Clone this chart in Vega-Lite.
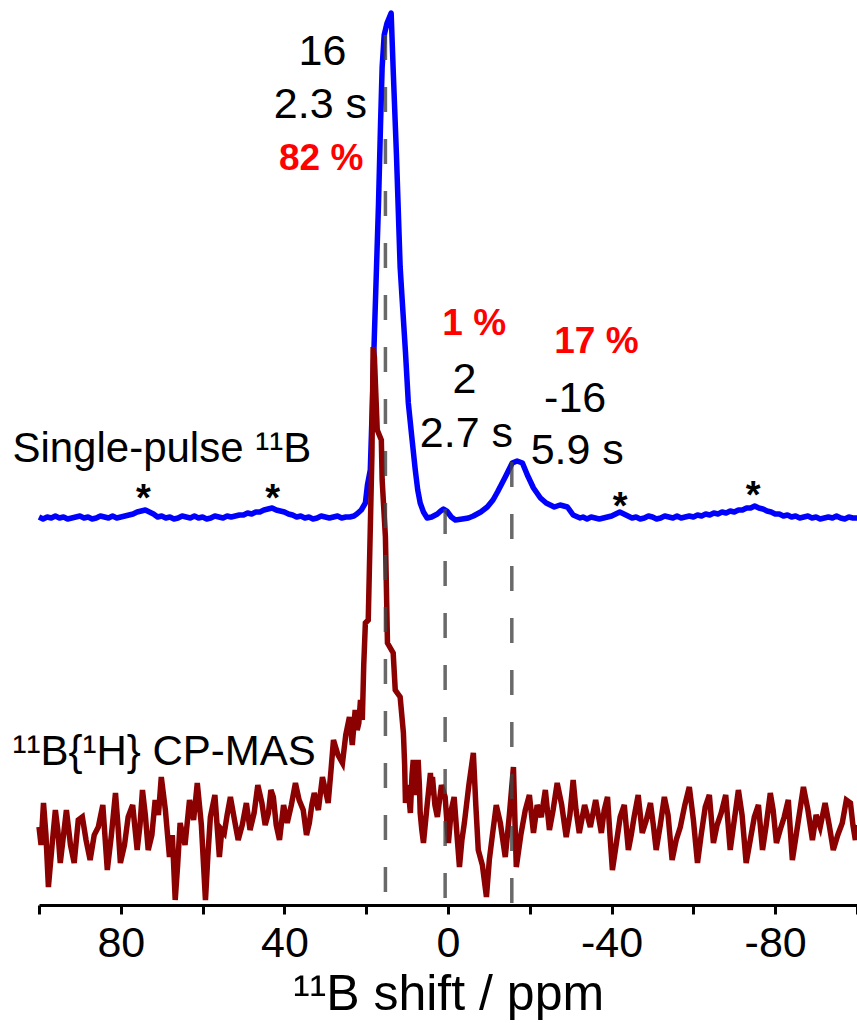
{
  "$schema": "https://vega.github.io/schema/vega-lite/v6.json",
  "width": 818,
  "height": 905,
  "autosize": {"type": "none"},
  "padding": {"left": 39, "top": 0, "right": 0, "bottom": 118},
  "config": {
    "view": {"stroke": null},
    "font": "Liberation Sans",
    "text": {"font": "Liberation Sans"}
  },
  "datasets": {
    "blue": [
      {"ppm":100,"v":388},{"ppm":99,"v":386},{"ppm":98,"v":388},{"ppm":97,"v":387},{"ppm":96,"v":389},{"ppm":95,"v":387},{"ppm":94,"v":388},{"ppm":93,"v":386},{"ppm":92,"v":387},{"ppm":91,"v":388},{"ppm":90,"v":389},{"ppm":89,"v":387},{"ppm":88,"v":388},{"ppm":87,"v":386},{"ppm":86,"v":387},{"ppm":85,"v":389},{"ppm":84,"v":388},{"ppm":83,"v":387},{"ppm":82,"v":389},{"ppm":81,"v":387},{"ppm":80,"v":388},{"ppm":79,"v":389},{"ppm":78,"v":390},{"ppm":77,"v":391},{"ppm":76,"v":393},{"ppm":75,"v":394},{"ppm":74,"v":395},{"ppm":73,"v":393},{"ppm":72,"v":391},{"ppm":71,"v":388},{"ppm":70,"v":389},{"ppm":69,"v":387},{"ppm":68,"v":388},{"ppm":67,"v":386},{"ppm":66,"v":387},{"ppm":65,"v":389},{"ppm":64,"v":388},{"ppm":63,"v":387},{"ppm":62,"v":389},{"ppm":61,"v":387},{"ppm":60,"v":388},{"ppm":59,"v":386},{"ppm":58,"v":387},{"ppm":57,"v":389},{"ppm":56,"v":388},{"ppm":55,"v":387},{"ppm":54,"v":389},{"ppm":53,"v":388},{"ppm":52,"v":389},{"ppm":51,"v":390},{"ppm":50,"v":390},{"ppm":49,"v":392},{"ppm":48,"v":391},{"ppm":47,"v":393},{"ppm":46,"v":393},{"ppm":45,"v":395},{"ppm":44,"v":396},{"ppm":43,"v":397},{"ppm":42,"v":395},{"ppm":41,"v":394},{"ppm":40,"v":393},{"ppm":39,"v":391},{"ppm":38,"v":390},{"ppm":37,"v":388},{"ppm":36,"v":389},{"ppm":35,"v":387},{"ppm":34,"v":388},{"ppm":33,"v":386},{"ppm":32,"v":387},{"ppm":31,"v":389},{"ppm":30,"v":388},{"ppm":29,"v":387},{"ppm":28,"v":388},{"ppm":27,"v":389},{"ppm":26,"v":387},{"ppm":25,"v":388},{"ppm":24,"v":388},{"ppm":23,"v":389},{"ppm":22.3,"v":391},{"ppm":21.2,"v":395},{"ppm":20.2,"v":402},{"ppm":19.7,"v":420},{"ppm":19.0,"v":435},{"ppm":18.5,"v":500},{"ppm":18.0,"v":570},{"ppm":17.5,"v":635},{"ppm":17.0,"v":700},{"ppm":16.5,"v":780},{"ppm":16.1,"v":838},{"ppm":15.6,"v":870},{"ppm":14.9,"v":882},{"ppm":13.9,"v":892},{"ppm":13.4,"v":835},{"ppm":12.6,"v":750},{"ppm":11.7,"v":638},{"ppm":11.2,"v":605},{"ppm":10.4,"v":553},{"ppm":9.7,"v":502},{"ppm":8.9,"v":470},{"ppm":8.0,"v":435},{"ppm":7.4,"v":415},{"ppm":6.8,"v":402},{"ppm":6.0,"v":393},{"ppm":5.1,"v":387},{"ppm":4.0,"v":388},{"ppm":2.6,"v":391},{"ppm":1.8,"v":394},{"ppm":1.1,"v":396},{"ppm":0.3,"v":394},{"ppm":-0.8,"v":388},{"ppm":-1.8,"v":385},{"ppm":-3.5,"v":386},{"ppm":-5,"v":387},{"ppm":-6.2,"v":389},{"ppm":-8,"v":393},{"ppm":-9.6,"v":398},{"ppm":-11,"v":405},{"ppm":-12.1,"v":413},{"ppm":-14.0,"v":428},{"ppm":-15.7,"v":442},{"ppm":-16.9,"v":444},{"ppm":-18.2,"v":442},{"ppm":-19.4,"v":430},{"ppm":-20.9,"v":417},{"ppm":-22.6,"v":407},{"ppm":-24,"v":402},{"ppm":-25.0,"v":400},{"ppm":-26,"v":398},{"ppm":-27.4,"v":400},{"ppm":-29.2,"v":398},{"ppm":-30.6,"v":390},{"ppm":-32.3,"v":387},{"ppm":-33,"v":388},{"ppm":-34,"v":386},{"ppm":-35,"v":388},{"ppm":-36,"v":387},{"ppm":-37,"v":386},{"ppm":-38,"v":387},{"ppm":-39,"v":388},{"ppm":-40,"v":389},{"ppm":-41,"v":391},{"ppm":-42,"v":393},{"ppm":-43,"v":391},{"ppm":-44,"v":389},{"ppm":-45,"v":387},{"ppm":-46,"v":388},{"ppm":-47,"v":386},{"ppm":-48,"v":387},{"ppm":-49,"v":389},{"ppm":-50,"v":388},{"ppm":-51,"v":386},{"ppm":-52,"v":387},{"ppm":-53,"v":389},{"ppm":-54,"v":388},{"ppm":-55,"v":387},{"ppm":-56,"v":389},{"ppm":-57,"v":387},{"ppm":-58,"v":388},{"ppm":-59,"v":389},{"ppm":-60,"v":388},{"ppm":-61,"v":390},{"ppm":-62,"v":389},{"ppm":-63,"v":391},{"ppm":-64,"v":390},{"ppm":-65,"v":392},{"ppm":-66,"v":391},{"ppm":-67,"v":393},{"ppm":-68,"v":392},{"ppm":-69,"v":394},{"ppm":-70,"v":393},{"ppm":-71,"v":395},{"ppm":-72,"v":395},{"ppm":-73,"v":397},{"ppm":-74,"v":397},{"ppm":-75,"v":399},{"ppm":-76,"v":397},{"ppm":-77,"v":396},{"ppm":-78,"v":394},{"ppm":-79,"v":393},{"ppm":-80,"v":391},{"ppm":-81,"v":391},{"ppm":-82,"v":389},{"ppm":-83,"v":390},{"ppm":-84,"v":388},{"ppm":-85,"v":389},{"ppm":-86,"v":387},{"ppm":-87,"v":388},{"ppm":-88,"v":389},{"ppm":-89,"v":387},{"ppm":-90,"v":388},{"ppm":-91,"v":386},{"ppm":-92,"v":387},{"ppm":-93,"v":388},{"ppm":-94,"v":387},{"ppm":-95,"v":389},{"ppm":-96,"v":387},{"ppm":-97,"v":386},{"ppm":-98,"v":388},{"ppm":-99,"v":387},{"ppm":-100,"v":387}
    ],
    "red": [
      {"ppm":100,"v":78},{"ppm":99.5,"v":60},{"ppm":98.9,"v":102},{"ppm":98.3,"v":70},{"ppm":97.7,"v":18},{"ppm":96.8,"v":60},{"ppm":96.0,"v":95},{"ppm":95.4,"v":75},{"ppm":94.8,"v":42},{"ppm":94.0,"v":70},{"ppm":93.3,"v":95},{"ppm":92.3,"v":60},{"ppm":91.4,"v":42},{"ppm":90.4,"v":85},{"ppm":89.4,"v":88},{"ppm":88.5,"v":65},{"ppm":87.5,"v":45},{"ppm":86.5,"v":70},{"ppm":85.5,"v":78},{"ppm":84.4,"v":100},{"ppm":83.3,"v":35},{"ppm":82.3,"v":70},{"ppm":81.3,"v":112},{"ppm":80.7,"v":80},{"ppm":80.1,"v":42},{"ppm":79.1,"v":60},{"ppm":78.2,"v":88},{"ppm":77.1,"v":100},{"ppm":76.0,"v":55},{"ppm":75.3,"v":80},{"ppm":74.7,"v":115},{"ppm":74.0,"v":90},{"ppm":73.3,"v":55},{"ppm":72.4,"v":70},{"ppm":71.6,"v":105},{"ppm":70.8,"v":90},{"ppm":70.1,"v":128},{"ppm":69.1,"v":95},{"ppm":68.1,"v":48},{"ppm":67.4,"v":70},{"ppm":66.7,"v":5},{"ppm":66.1,"v":40},{"ppm":65.5,"v":82},{"ppm":64.3,"v":60},{"ppm":63.2,"v":105},{"ppm":62.2,"v":85},{"ppm":61.3,"v":122},{"ppm":60.3,"v":80},{"ppm":59.3,"v":5},{"ppm":58.7,"v":50},{"ppm":58.1,"v":88},{"ppm":57.0,"v":110},{"ppm":55.9,"v":48},{"ppm":55.3,"v":75},{"ppm":54.7,"v":72},{"ppm":54.0,"v":90},{"ppm":53.2,"v":108},{"ppm":52.2,"v":85},{"ppm":51.3,"v":65},{"ppm":50.3,"v":80},{"ppm":49.3,"v":102},{"ppm":48.4,"v":75},{"ppm":47.4,"v":92},{"ppm":46.5,"v":120},{"ppm":45.5,"v":102},{"ppm":44.7,"v":80},{"ppm":43.9,"v":92},{"ppm":43.3,"v":115},{"ppm":42.7,"v":108},{"ppm":42.0,"v":80},{"ppm":41.2,"v":65},{"ppm":40.2,"v":100},{"ppm":39.3,"v":82},{"ppm":38.3,"v":100},{"ppm":37.3,"v":122},{"ppm":36.4,"v":105},{"ppm":35.4,"v":95},{"ppm":34.6,"v":70},{"ppm":33.9,"v":82},{"ppm":33.3,"v":100},{"ppm":32.7,"v":112},{"ppm":31.7,"v":95},{"ppm":30.7,"v":128},{"ppm":30.0,"v":115},{"ppm":29.3,"v":102},{"ppm":28.6,"v":135},{"ppm":28.0,"v":165},{"ppm":26.9,"v":150},{"ppm":25.8,"v":142},{"ppm":25.0,"v":170},{"ppm":24.1,"v":188},{"ppm":23.4,"v":160},{"ppm":22.7,"v":195},{"ppm":22.2,"v":175},{"ppm":21.8,"v":182},{"ppm":21.4,"v":205},{"ppm":20.95,"v":185},{"ppm":20.6,"v":240},{"ppm":20.2,"v":282},{"ppm":19.5,"v":285},{"ppm":18.6,"v":450},{"ppm":18.3,"v":558},{"ppm":18.0,"v":548},{"ppm":17.3,"v":475},{"ppm":16.3,"v":465},{"ppm":16.1,"v":425},{"ppm":15.3,"v":368},{"ppm":14.8,"v":262},{"ppm":13.4,"v":252},{"ppm":12.9,"v":215},{"ppm":11.7,"v":208},{"ppm":10.9,"v":172},{"ppm":10.6,"v":140},{"ppm":10.4,"v":102},{"ppm":9.8,"v":120},{"ppm":9.2,"v":92},{"ppm":8.8,"v":130},{"ppm":8.5,"v":145},{"ppm":7.9,"v":110},{"ppm":7.3,"v":145},{"ppm":7.0,"v":120},{"ppm":6.8,"v":92},{"ppm":6.4,"v":75},{"ppm":6.0,"v":62},{"ppm":5.1,"v":100},{"ppm":4.3,"v":132},{"ppm":4.0,"v":110},{"ppm":3.8,"v":128},{"ppm":3.2,"v":100},{"ppm":2.6,"v":88},{"ppm":1.6,"v":120},{"ppm":0.7,"v":108},{"ppm":0.3,"v":85},{"ppm":-0.1,"v":62},{"ppm":-0.8,"v":95},{"ppm":-1.5,"v":108},{"ppm":-2.2,"v":70},{"ppm":-2.8,"v":38},{"ppm":-3.4,"v":65},{"ppm":-4.0,"v":82},{"ppm":-5.1,"v":120},{"ppm":-6.2,"v":152},{"ppm":-6.8,"v":100},{"ppm":-7.4,"v":55},{"ppm":-8.4,"v":40},{"ppm":-9.4,"v":8},{"ppm":-10.1,"v":45},{"ppm":-10.8,"v":68},{"ppm":-11.8,"v":100},{"ppm":-12.8,"v":82},{"ppm":-13.4,"v":65},{"ppm":-14.0,"v":48},{"ppm":-15.0,"v":90},{"ppm":-16.0,"v":138},{"ppm":-16.4,"v":80},{"ppm":-16.7,"v":38},{"ppm":-17.8,"v":70},{"ppm":-18.9,"v":95},{"ppm":-19.9,"v":110},{"ppm":-20.9,"v":72},{"ppm":-21.8,"v":100},{"ppm":-22.8,"v":88},{"ppm":-23.8,"v":115},{"ppm":-24.8,"v":75},{"ppm":-25.7,"v":95},{"ppm":-26.7,"v":122},{"ppm":-27.8,"v":100},{"ppm":-28.9,"v":68},{"ppm":-29.8,"v":90},{"ppm":-30.6,"v":125},{"ppm":-31.3,"v":95},{"ppm":-32.1,"v":72},{"ppm":-33.4,"v":100},{"ppm":-34.8,"v":78},{"ppm":-36.1,"v":105},{"ppm":-37.5,"v":72},{"ppm":-38.2,"v":95},{"ppm":-39.0,"v":108},{"ppm":-39.6,"v":70},{"ppm":-40.2,"v":35},{"ppm":-41.1,"v":60},{"ppm":-42.1,"v":88},{"ppm":-43.1,"v":100},{"ppm":-44.1,"v":55},{"ppm":-44.8,"v":70},{"ppm":-45.5,"v":88},{"ppm":-46.5,"v":110},{"ppm":-47.5,"v":72},{"ppm":-48.5,"v":85},{"ppm":-49.5,"v":102},{"ppm":-50.2,"v":80},{"ppm":-50.9,"v":55},{"ppm":-51.9,"v":80},{"ppm":-52.9,"v":108},{"ppm":-53.8,"v":90},{"ppm":-54.8,"v":45},{"ppm":-55.8,"v":65},{"ppm":-56.8,"v":78},{"ppm":-57.9,"v":100},{"ppm":-59.0,"v":118},{"ppm":-60.0,"v":85},{"ppm":-61.0,"v":42},{"ppm":-61.9,"v":70},{"ppm":-62.9,"v":98},{"ppm":-63.9,"v":110},{"ppm":-64.9,"v":62},{"ppm":-65.8,"v":80},{"ppm":-66.8,"v":92},{"ppm":-67.9,"v":110},{"ppm":-69.0,"v":55},{"ppm":-70.0,"v":85},{"ppm":-71.0,"v":115},{"ppm":-71.9,"v":90},{"ppm":-72.9,"v":42},{"ppm":-73.9,"v":65},{"ppm":-74.9,"v":88},{"ppm":-75.9,"v":100},{"ppm":-76.9,"v":55},{"ppm":-77.8,"v":80},{"ppm":-78.8,"v":112},{"ppm":-79.5,"v":95},{"ppm":-80.3,"v":62},{"ppm":-81.2,"v":75},{"ppm":-82.2,"v":88},{"ppm":-83.2,"v":105},{"ppm":-84.2,"v":45},{"ppm":-85.5,"v":80},{"ppm":-86.9,"v":118},{"ppm":-88.0,"v":95},{"ppm":-89.1,"v":65},{"ppm":-90.0,"v":90},{"ppm":-91.0,"v":78},{"ppm":-91.6,"v":90},{"ppm":-92.2,"v":102},{"ppm":-93.2,"v":80},{"ppm":-94.2,"v":55},{"ppm":-95.3,"v":70},{"ppm":-96.4,"v":82},{"ppm":-97.4,"v":105},{"ppm":-98.4,"v":102},{"ppm":-99.0,"v":80},{"ppm":-99.6,"v":65},{"ppm":-100,"v":80}
    ],
    "rules": [
      {"ppm":15.3,"top":870,"bottom":0},{"ppm":0.7,"top":396,"bottom":0},{"ppm":-15.6,"top":443,"bottom":0}
    ],
    "nums": [
      {"ppm":30.7,"v":840,"t":"16"},{"ppm":31.2,"v":787,"t":"2.3 s"},
      {"ppm":-4.0,"v":512,"t":"2"},{"ppm":-4.5,"v":458,"t":"2.7 s"},
      {"ppm":-31.1,"v":493,"t":"-16"},{"ppm":-31.6,"v":441,"t":"5.9 s"}
    ],
    "pct": [
      {"ppm":31.0,"v":735,"t":"82 %"},{"ppm":-6.4,"v":570,"t":"1 %"},{"ppm":-36.3,"v":552,"t":"17 %"}
    ],
    "names": [
      {"ppm":106.5,"v":443,"t":"Single-pulse ¹¹B"},{"ppm":106.5,"v":140,"t":"¹¹B{¹H} CP-MAS"}
    ],
    "stars": [
      {"ppm":74.5,"v":394,"t":"*"},{"ppm":42.9,"v":394,"t":"*"},{"ppm":-42.1,"v":386,"t":"*"},{"ppm":-74.6,"v":397,"t":"*"}
    ]
  },
  "layer": [
    {
      "data": {"name": "blue"},
      "mark": {"type": "line", "color": "#0000ff", "strokeWidth": 5.5, "strokeJoin": "round"},
      "encoding": {
        "x": {
          "field": "ppm", "type": "quantitative",
          "scale": {"domain": [-100, 100], "reverse": true, "nice": false, "zero": false},
          "axis": {
            "title": "¹¹B shift / ppm",
            "values": [-100,-80,-60,-40,-20,0,20,40,60,80,100],
            "labelExpr": "datum.value % 40 == 0 ? toString(datum.value) : ''",
            "grid": false,
            "domainColor": "#000000", "domainWidth": 3,
            "tickColor": "#000000", "tickWidth": 3, "tickSize": 9,
            "labelFont": "Liberation Sans", "labelFontSize": 43, "labelColor": "#000000",
            "labelPadding": 8, "labelFlush": false, "labelOverlap": false,
            "titleFont": "Liberation Sans", "titleFontSize": 50, "titleFontWeight": "normal",
            "titleColor": "#000000", "titlePadding": 4
          }
        },
        "y": {
          "field": "v", "type": "quantitative",
          "scale": {"domain": [0, 905], "nice": false, "zero": false},
          "axis": null
        }
      }
    },
    {
      "data": {"name": "red"},
      "mark": {"type": "line", "color": "#8b0000", "strokeWidth": 5.5},
      "encoding": {
        "x": {"field": "ppm", "type": "quantitative"},
        "y": {"field": "v", "type": "quantitative"}
      }
    },
    {
      "data": {"name": "rules"},
      "mark": {"type": "rule", "color": "#444444", "opacity": 0.8, "strokeWidth": 3.5, "strokeDash": [25, 27]},
      "encoding": {
        "x": {"field": "ppm", "type": "quantitative"},
        "y": {"field": "top", "type": "quantitative"},
        "y2": {"field": "bottom"}
      }
    },
    {
      "data": {"name": "nums"},
      "mark": {"type": "text", "fontSize": 43, "color": "#000000", "align": "center", "baseline": "alphabetic"},
      "encoding": {
        "x": {"field": "ppm", "type": "quantitative"},
        "y": {"field": "v", "type": "quantitative"},
        "text": {"field": "t"}
      }
    },
    {
      "data": {"name": "pct"},
      "mark": {"type": "text", "fontSize": 37, "fontWeight": "bold", "color": "#ff0000", "align": "center", "baseline": "alphabetic"},
      "encoding": {
        "x": {"field": "ppm", "type": "quantitative"},
        "y": {"field": "v", "type": "quantitative"},
        "text": {"field": "t"}
      }
    },
    {
      "data": {"name": "names"},
      "mark": {"type": "text", "fontSize": 42, "color": "#000000", "align": "left", "baseline": "alphabetic"},
      "encoding": {
        "x": {"field": "ppm", "type": "quantitative"},
        "y": {"field": "v", "type": "quantitative"},
        "text": {"field": "t"}
      }
    },
    {
      "data": {"name": "stars"},
      "mark": {"type": "text", "fontSize": 38, "fontWeight": "bold", "color": "#000000", "align": "center", "baseline": "alphabetic"},
      "encoding": {
        "x": {"field": "ppm", "type": "quantitative"},
        "y": {"field": "v", "type": "quantitative"},
        "text": {"field": "t"}
      }
    }
  ]
}
